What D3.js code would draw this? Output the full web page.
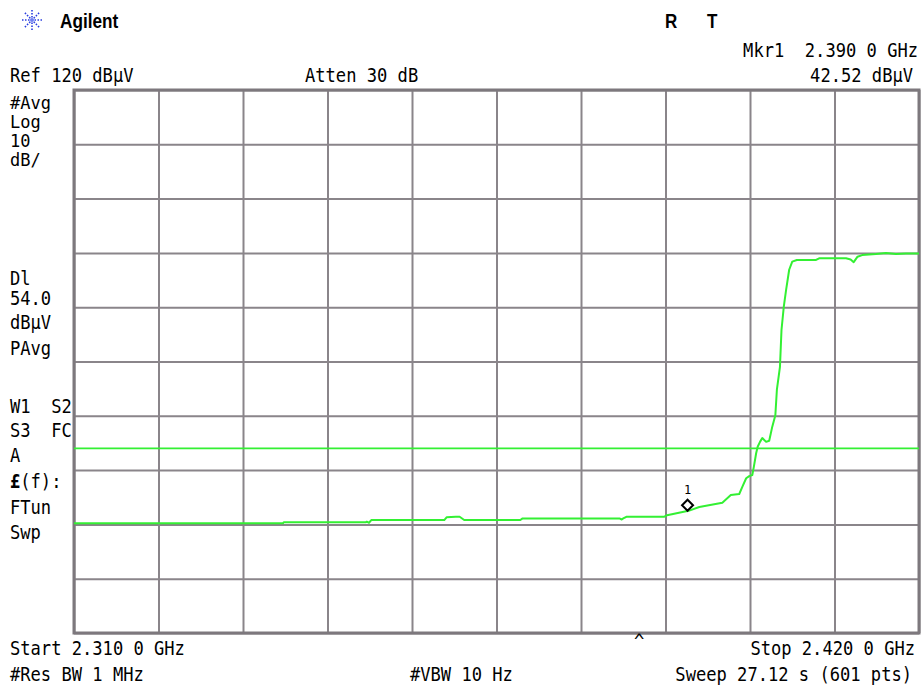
<!DOCTYPE html>
<html>
<head>
<meta charset="utf-8">
<script src="https://cdn.jsdelivr.net/npm/d3@7"></script>
<style>
  html, body { margin: 0; padding: 0; background: #ffffff; }
  svg { display: block; }
  .mono { font-family: "DejaVu Sans Mono", "Liberation Mono", monospace; font-size: 19px; fill: #000; white-space: pre; }
  .monoS { font-family: "DejaVu Sans Mono", "Liberation Mono", monospace; font-size: 17px; fill: #000; white-space: pre; }
  .head { font-family: "Liberation Sans", Arial, sans-serif; font-weight: bold; font-size: 20px; fill: #000; }
</style>
</head>
<body>
<svg id="chart" width="924" height="688"></svg>
<script>
// ---- data ----
const freqMHz = [2310, 2337.2, 2337.3, 2348.0, 2348.1, 2348.4, 2348.7, 2353.9, 2354.1, 2358.2, 2358.5, 2359.7, 2360.2, 2360.8,
  2368.1, 2368.4, 2381.0, 2381.3, 2381.5, 2381.9, 2386.8, 2387.2, 2390.0, 2391.4, 2394.4, 2395.5, 2396.6, 2397.0, 2397.5,
  2397.9, 2398.3, 2398.5, 2398.8, 2399.0, 2399.3, 2399.6, 2400.1, 2400.5, 2400.9, 2401.3, 2401.5, 2401.9, 2402.1, 2402.4,
  2402.7, 2403.1, 2403.5, 2404.1, 2406.6, 2407.0, 2408.9, 2410.5, 2411.1, 2411.5, 2412.0, 2412.6, 2414.4, 2415.7, 2417.0,
  2418.3, 2420];
const levelDbuV = [40.2, 40.2, 40.4, 40.4, 40.5, 40.3, 40.8, 40.8, 40.8, 40.8, 41.3, 41.4, 41.4, 40.8,
  40.8, 41.1, 41.1, 40.9, 41.1, 41.4, 41.4, 41.7, 42.5, 43.2, 44.0, 45.4, 45.6, 46.9, 48.5,
  48.9, 49.1, 50.6, 53.1, 54.3, 55.2, 55.9, 55.2, 55.4, 58.0, 60.1, 64.8, 69.0, 75.8, 80.1,
  83.2, 86.9, 88.4, 88.7, 88.7, 89.0, 89.0, 89.0, 88.8, 88.3, 89.3, 89.6, 89.8, 90.0, 89.8,
  89.9, 89.9];
const refLevel = 120, dbPerDiv = 10, divisions = 10;
const startMHz = 2310, stopMHz = 2420;
const displayLine = 54.0;
const markerFreq = 2390.0, markerLevel = 42.52;

const topTexts = ["Ref 120 dBµV", "Atten 30 dB", "Mkr1  2.390 0 GHz", "42.52 dBµV"];
const leftTexts = ["#Avg", "Log", "10", "dB/", "Dl", "54.0", "dBµV", "PAvg", "W1  S2", "S3  FC", "A", "£(f):", "FTun", "Swp"];
const bottomTexts = ["Start 2.310 0 GHz", "#Res BW 1 MHz", "#VBW 10 Hz", "Stop 2.420 0 GHz", "Sweep 27.12 s (601 pts)"];

// ---- layout ----
const L = 74, R = 919, T = 90, B = 633;
const svg = d3.select("#chart");

const x = d3.scaleLinear().domain([startMHz, stopMHz]).range([L, R]);
const y = d3.scaleLinear().domain([refLevel - dbPerDiv * divisions, refLevel]).range([B, T]);

const gridColor = "#8a858a";
const xTickVals = d3.range(divisions + 1).map(i => startMHz + i * (stopMHz - startMHz) / divisions);
const yTickVals = d3.range(divisions + 1).map(i => refLevel - i * dbPerDiv);

const gx = svg.append("g").attr("transform", `translate(0,${B})`)
  .call(d3.axisBottom(x).tickValues(xTickVals).tickSize(-(B - T)).tickFormat(""));
const gy = svg.append("g").attr("transform", `translate(${L},0)`)
  .call(d3.axisLeft(y).tickValues(yTickVals).tickSize(-(R - L)).tickFormat(""));
[gx, gy].forEach(g => {
  g.select(".domain").remove();
  g.selectAll(".tick line").attr("stroke", gridColor).attr("stroke-width", 2);
});
svg.append("rect").attr("x", L).attr("y", T).attr("width", R - L).attr("height", B - T)
  .attr("fill", "none").attr("stroke", "#7d787d").attr("stroke-width", 3);

const green = "#33f033";
svg.append("line").attr("x1", L).attr("x2", R).attr("y1", y(displayLine)).attr("y2", y(displayLine))
  .attr("stroke", green).attr("stroke-width", 1.6);

const pts = freqMHz.map((f, i) => [f, levelDbuV[i]]);
svg.append("path").datum(pts)
  .attr("fill", "none").attr("stroke", green).attr("stroke-width", 2)
  .attr("stroke-linejoin", "round")
  .attr("d", d3.line().x(d => x(d[0])).y(d => y(d[1])));

// marker (diamond with bottom vertex at the marker point)
const mx = x(markerFreq) - 1, my = y(markerLevel);
svg.append("path")
  .attr("d", `M${mx},${my} L${mx + 5.5},${my - 5.5} L${mx},${my - 11} L${mx - 5.5},${my - 5.5} Z`)
  .attr("fill", "#fff").attr("stroke", "#000").attr("stroke-width", 2);
svg.append("text").attr("x", mx).attr("y", my - 17).attr("text-anchor", "middle")
  .attr("font-family", "DejaVu Sans Mono, monospace").attr("font-size", 12).text("1");

// ---- texts ----
function mono(txt, px, py, anchor, cls) {
  return svg.append("text").attr("class", cls || "mono")
    .attr("transform", `translate(${px},${py}) scale(${cls === "monoS" ? 1 : 0.9},1)`)
    .attr("xml:space", "preserve")
    .attr("text-anchor", anchor || "start").text(txt);
}
// Agilent logo (starburst)
const logo = svg.append("g").attr("transform", "translate(32,20)");
d3.range(8).forEach(i => {
  const a = i * Math.PI / 4;
  logo.append("line").attr("x1", 2.5 * Math.cos(a)).attr("y1", 2.5 * Math.sin(a))
    .attr("x2", 10 * Math.cos(a)).attr("y2", 10 * Math.sin(a))
    .attr("stroke", "#2a3ee0").attr("stroke-width", 1.6).attr("stroke-dasharray", "1.5,1.5");
});
logo.append("circle").attr("r", 2).attr("fill", "#6f7ff0");
svg.append("text").attr("class", "head").attr("transform", "translate(60,28) scale(0.86,1)").text("Agilent");
svg.append("text").attr("class", "head").attr("transform", "translate(665,28) scale(0.85,1)").text("R");
svg.append("text").attr("class", "head").attr("transform", "translate(707,28) scale(0.85,1)").text("T");

mono(topTexts[0], 10, 82);
mono(topTexts[1], 305, 82);
mono(topTexts[2], 918, 57, "end");
mono(topTexts[3], 913, 82, "end");

const leftY = [109, 128, 147, 166, 285, 305, 329, 355, 413, 437, 462, 488, 514, 539];
leftTexts.forEach((t, i) => {
  const cls = i < 4 ? "monoS" : "mono";
  if (t === "£(f):") {
    const tx = svg.append("text").attr("class", cls)
      .attr("transform", `translate(10,${leftY[i]}) scale(0.9,1)`);
    tx.append("tspan").attr("font-weight", "bold").text("£");
    tx.append("tspan").text("(f):");
  } else {
    mono(t, 10, leftY[i], "start", cls);
  }
});

mono(bottomTexts[0], 10, 655);
mono(bottomTexts[1], 10, 681);
mono(bottomTexts[2], 410, 681);
mono(bottomTexts[3], 915, 655, "end");
mono(bottomTexts[4], 912, 681, "end");
mono("^", 634, 648);
</script>
</body>
</html>
